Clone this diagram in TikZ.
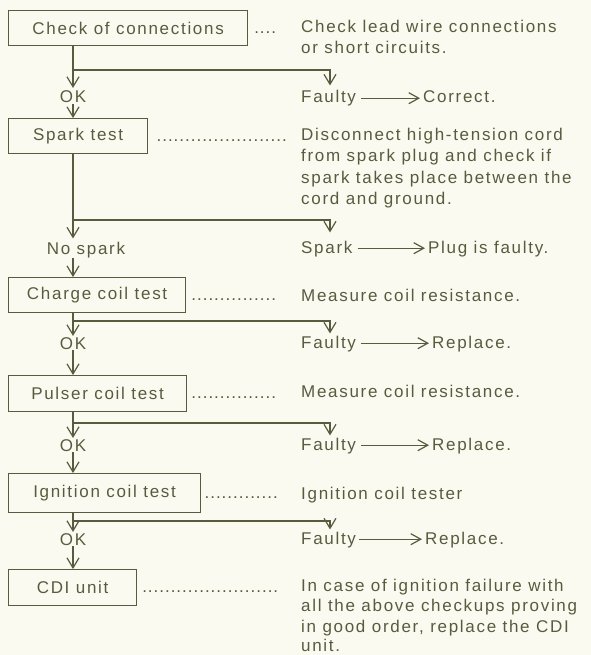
\documentclass[tikz,border=0pt]{standalone}
\usepackage{fontspec}
\setmainfont{Liberation Sans}[LetterSpace=10]
\usetikzlibrary{arrows.meta}
\definecolor{ink}{RGB}{88,92,62}
\definecolor{paper}{RGB}{250,250,240}
\newcommand\leaderdots[1]{\hbox to #1{\cleaders\hbox to 5.7bp{\hss.\hss}\hfill}}
\begin{document}
\begin{tikzpicture}[x=1bp,y=-1bp,
  every node/.style={text=ink, font=\fontsize{17bp}{21bp}\selectfont, inner sep=0pt},
  box/.style={draw=ink, line width=1.2bp, anchor=north west},
  txt/.style={anchor=base west},
  lbl/.style={anchor=base},
  line/.style={draw=ink, line width=1.2bp},
  arr/.style={line, -{Straight Barb[length=10bp,width=12bp]}},
  harr/.style={line, -{Straight Barb[length=10bp,width=11bp]}}]
\fill[paper] (0,0) rectangle (591,655);
\useasboundingbox (0,0) rectangle (591,655);

% boxes
\node[box, minimum width=239bp, minimum height=35bp] (b1) at (8,10) {Check of connections};
\node[box, minimum width=139bp, minimum height=35bp] (b2) at (8,118) {Spark test};
\node[box, minimum width=177bp, minimum height=35bp] (b3) at (8,277) {Charge coil test};
\node[box, minimum width=178bp, minimum height=36bp] (b4) at (8,375) {Pulser coil test};
\node[box, minimum width=192bp, minimum height=39bp] (b5) at (8,473) {Ignition coil test};
\node[box, minimum width=128bp, minimum height=36bp] (b6) at (8,569) {CDI unit};

% leaders
\node[txt] (dt1) at (251,33.5) {\leaderdots{28bp}};
\node[txt] (dt2) at (155,141) {\leaderdots{133bp}};
\node[txt] (dt3) at (188,300) {\leaderdots{91bp}};
\node[txt] (dt4) at (188,398) {\leaderdots{91bp}};
\node[txt] (dt5) at (203,498) {\leaderdots{76bp}};
\node[txt] (dt6) at (140,592) {\leaderdots{140bp}};

% descriptions
\node[txt] (d1a) at (301,33) {Check lead wire connections};
\node[txt] (d1b) at (301,54) {or short circuits.};
\node[txt] (d2a) at (301,140) {Disconnect high-tension cord};
\node[txt] (d2b) at (301,161) {from spark plug and check if};
\node[txt] (d2c) at (301,183) {spark takes place between the};
\node[txt] (d2d) at (301,204) {cord and ground.};
\node[txt] (d3) at (301,301) {Measure coil resistance.};
\node[txt] (d4) at (301,397) {Measure coil resistance.};
\node[txt] (d5) at (301,499) {Ignition coil tester};
\node[txt] (d6a) at (301,591) {In case of ignition failure with};
\node[txt] (d6b) at (301,611.5) {all the above checkups proving};
\node[txt] (d6c) at (301,632) {in good order, replace the CDI};
\node[txt] (d6d) at (301,651.5) {unit.};

% branch points
\coordinate (c1) at (73,70);  \coordinate (k1) at (330,70);
\coordinate (c2) at (73,220); \coordinate (k2) at (330,220);
\coordinate (c3) at (73,321); \coordinate (k3) at (330,321);
\coordinate (c4) at (73,423); \coordinate (k4) at (330,423);
\coordinate (c5) at (73,521); \coordinate (k5) at (330,521);

% labels
\node[lbl] (ok1) at (73,103) {OK};
\node[lbl] (ns)  at (86,254) {No spark};
\node[lbl] (ok3) at (73,349) {OK};
\node[lbl] (ok4) at (73,451) {OK};
\node[lbl] (ok5) at (73,545) {OK};

\node[txt] (f1) at (301,103) {Faulty};
\node[txt] (r1) at (423,103) {Correct.};
\node[txt] (f2) at (301,253) {Spark};
\node[txt] (r2) at (428,253) {Plug is faulty.};
\node[txt] (f3) at (301,348) {Faulty};
\node[txt] (r3) at (432,348) {Replace.};
\node[txt] (f4) at (301,450) {Faulty};
\node[txt] (r4) at (432,450) {Replace.};
\node[txt] (f5) at (301,544) {Faulty};
\node[txt] (r5) at (425,544) {Replace.};

% main line
\draw[line] (c1 |- b1.south) -- (c1);
\draw[arr, shorten >=3bp] (c1) -- (ok1.north);
\draw[arr] ([yshift=-1bp]ok1.south) -- (c1 |- b2.north);
\draw[line] (c2 |- b2.south) -- (c2);
\draw[arr, shorten >=3bp] (c2) -- (c2 |- ns.north);
\draw[arr] (c2 |- ns.south) -- (c2 |- b3.north);
\draw[line] (c3 |- b3.south) -- (c3);
\draw[arr, shorten >=1bp] (c3) -- (ok3.north);
\draw[arr] ([yshift=-1bp]ok3.south) -- (c3 |- b4.north);
\draw[line] (c4 |- b4.south) -- (c4);
\draw[arr, shorten >=1bp] (c4) -- (ok4.north);
\draw[arr] ([yshift=-1bp]ok4.south) -- (c4 |- b5.north);
\draw[line] (c5 |- b5.south) -- (c5);
\draw[arr, shorten >=1bp] (c5) -- (ok5.north);
\draw[arr] ([yshift=-1bp]ok5.south) -- (c5 |- b6.north);

% branches
\draw[arr, shorten >=5bp] (c1) -- (k1) -- (k1 |- f1.north);
\draw[arr, shorten >=8bp] (c2) -- (k2) -- (k2 |- f2.north);
\draw[arr, shorten >=2bp] (c3) -- (k3) -- (k3 |- f3.north);
\draw[arr, shorten >=2bp] (c4) -- (k4) -- (k4 |- f4.north);
\draw[arr, shorten >=2bp] (c5) -- (k5) -- (k5 |- f5.north);

% result arrows
\draw[harr] ([xshift=5bp,yshift=4.8bp]f1.base east) -- ([xshift=-3bp,yshift=4.8bp]r1.base west);
\draw[harr] ([xshift=5bp,yshift=4.8bp]f2.base east) -- ([xshift=-3bp,yshift=4.8bp]r2.base west);
\draw[harr] ([xshift=5bp,yshift=4.8bp]f3.base east) -- ([xshift=-3bp,yshift=4.8bp]r3.base west);
\draw[harr] ([xshift=5bp,yshift=4.8bp]f4.base east) -- ([xshift=-3bp,yshift=4.8bp]r4.base west);
\draw[harr] ([xshift=3bp,yshift=4.8bp]f5.base east) -- ([xshift=-3bp,yshift=4.8bp]r5.base west);
\end{tikzpicture}
\end{document}
